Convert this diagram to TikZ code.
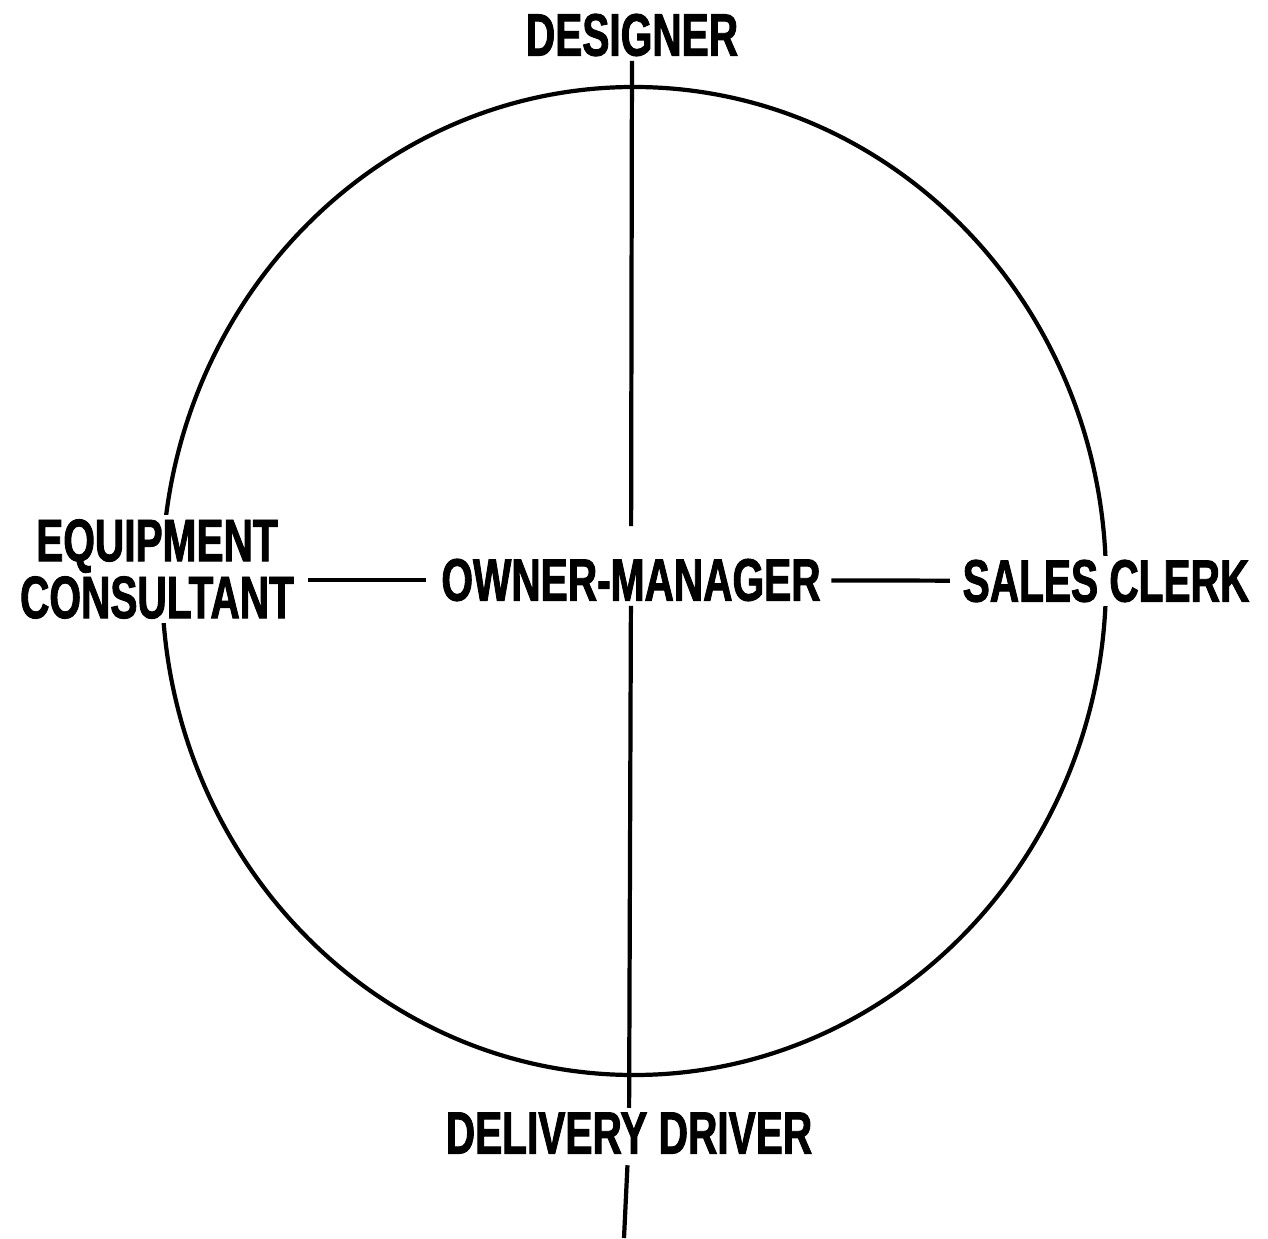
\documentclass[tikz,border=0pt]{standalone}
\usepackage{fontspec}
\setmainfont{Liberation Sans}[FakeStretch=0.68, BoldFeatures={FakeBold=1.5}]
\begin{document}
\begin{tikzpicture}[
  role/.style={fill=white, inner sep=0.04cm, align=center,
    font=\fontsize{17}{13.7}\selectfont\bfseries},
  link/.style={line width=1.2pt}]
\useasboundingbox (0,0) rectangle (12.68,12.38);

\draw[line width=1.2pt] (6.34, 6.57) ellipse (4.72 and 4.94);

\draw
(6.31, 6.58) node[role](owner){OWNER-MANAGER}
(6.32, 12.03) node[role](designer){DESIGNER}
(11.06, 6.57) node[role](clerk){SALES CLERK}
(1.57, 6.69) node[role](consultant){EQUIPMENT\\CONSULTANT}
(6.29, 1.05) node[role](driver){DELIVERY DRIVER};
\coordinate (end) at (6.24, 0);

\draw[link, shorten >=0.28cm] (designer) -- (owner);
\draw[link] (owner) -- (driver);
\draw[link, shorten <=0.07cm] (driver) -- (end);
\draw[link, shorten <=0.09cm, shorten >=0.11cm] (consultant.east |- owner) -- (owner);
\draw[link, shorten <=0.06cm, shorten >=0.08cm] (owner) -- (clerk);

\end{tikzpicture}
\end{document}
